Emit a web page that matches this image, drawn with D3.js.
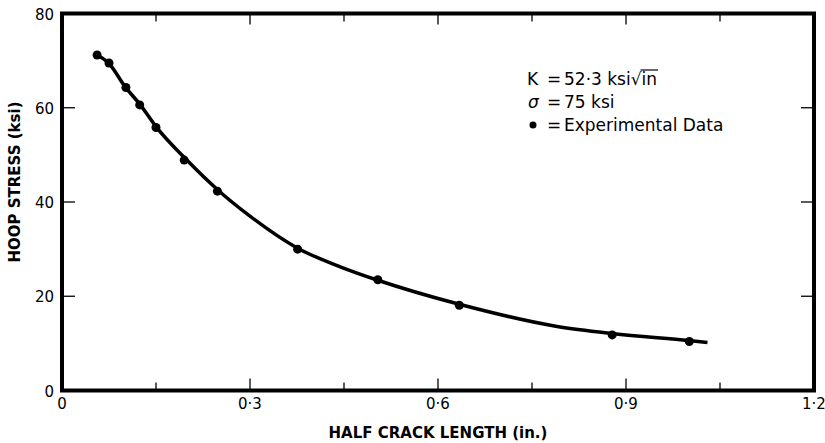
<!DOCTYPE html>
<html>
<head>
<meta charset="utf-8">
<script src="https://cdn.jsdelivr.net/npm/d3@7"></script>
<style>
  body { margin: 0; background: #fff; }
  text { font-family: "DejaVu Sans", "Liberation Sans", sans-serif; fill: #000; }
</style>
</head>
<body>
<svg id="chart" width="825" height="443"></svg>
<script>
// experimental points (half crack length in., hoop stress ksi)
const expX = [0.056, 0.075, 0.102, 0.124, 0.150, 0.195, 0.248, 0.376, 0.504, 0.634, 0.878, 1.001]
const expY = [71.2, 69.5, 64.3, 60.6, 55.8, 48.9, 42.3, 30.0, 23.5, 18.1, 11.8, 10.4]

// fitted curve
const curveX = [0.056, 0.075, 0.100, 0.125, 0.150, 0.200, 0.250, 0.300, 0.376, 0.445, 0.504, 0.634, 0.790, 0.878, 1.000, 1.030]
const curveY = [71.2, 69.4, 64.6, 60.6, 56.0, 48.8, 42.4, 37.0, 30.2, 26.2, 23.4, 18.3, 13.6, 12.1, 10.6, 10.2]

const xMajor = [0, 0.3, 0.6, 0.9, 1.2]
const xMajorLabels = ["0", "0·3", "0·6", "0·9", "1·2"]
const xMinor = [0.15, 0.45, 0.75, 1.05]
const yMajor = [0, 20, 40, 60, 80]

const svg = d3.select("#chart")
const mLeft = 62, mRight = 814, mTop = 13.5, mBottom = 390.5

const x = d3.scaleLinear().domain([0, 1.2]).range([mLeft, mRight])
const y = d3.scaleLinear().domain([0, 80]).range([mBottom, mTop])

// frame
svg.append("rect")
    .attr("x", mLeft).attr("y", mTop)
    .attr("width", mRight - mLeft).attr("height", mBottom - mTop)
    .attr("fill", "none").attr("stroke", "#000").attr("stroke-width", 4)

// inward ticks on every side
const tickG = svg.append("g").attr("stroke", "#000").attr("stroke-width", 1.3)
xMajor.slice(1, -1).forEach(v => {
    tickG.append("line").attr("x1", x(v)).attr("x2", x(v)).attr("y1", mBottom).attr("y2", mBottom - 12)
    tickG.append("line").attr("x1", x(v)).attr("x2", x(v)).attr("y1", mTop).attr("y2", mTop + 11)
})
xMinor.forEach(v => {
    tickG.append("line").attr("x1", x(v)).attr("x2", x(v)).attr("y1", mBottom).attr("y2", mBottom - 8)
    tickG.append("line").attr("x1", x(v)).attr("x2", x(v)).attr("y1", mTop).attr("y2", mTop + 8)
})
yMajor.slice(1, -1).forEach(v => {
    tickG.append("line").attr("x1", mLeft).attr("x2", mLeft + 13).attr("y1", y(v)).attr("y2", y(v))
    tickG.append("line").attr("x1", mRight).attr("x2", mRight - 13).attr("y1", y(v)).attr("y2", y(v))
})

// tick labels
svg.selectAll("text.xl").data(xMajor).join("text")
    .attr("class", "xl")
    .attr("x", d => x(d)).attr("y", 409)
    .attr("text-anchor", "middle")
    .attr("font-size", 15)
    .text((d, i) => xMajorLabels[i])

svg.selectAll("text.yl").data(yMajor).join("text")
    .attr("class", "yl")
    .attr("x", mLeft - 8).attr("y", d => y(d) + 6)
    .attr("text-anchor", "end")
    .attr("font-size", 15)
    .text(d => d)

// axis titles
svg.append("text")
    .attr("x", x(0.6)).attr("y", 438)
    .attr("text-anchor", "middle")
    .attr("font-size", 15).attr("font-weight", "bold")
    .text("HALF CRACK LENGTH (in.)")

svg.append("text")
    .attr("transform", `translate(20,182) rotate(-90)`)
    .attr("text-anchor", "middle")
    .attr("font-size", 15).attr("font-weight", "bold")
    .text("HOOP STRESS (ksi)")

// curve
const line = d3.line()
    .x(d => x(d[0])).y(d => y(d[1]))
    .curve(d3.curveMonotoneX)

svg.append("path")
    .datum(curveX.map((v, i) => [v, curveY[i]]))
    .attr("d", line)
    .attr("fill", "none").attr("stroke", "#000").attr("stroke-width", 3.5)

// points
svg.selectAll("circle.pt").data(expX).join("circle")
    .attr("class", "pt")
    .attr("cx", d => x(d)).attr("cy", (d, i) => y(expY[i]))
    .attr("r", 4.5)
    .attr("fill", "#000")

// legend
const tx = 564
const lg = svg.append("g").attr("font-size", 17)
lg.append("text").attr("x", 527).attr("y", 85).text("K")
lg.append("text").attr("x", 547).attr("y", 85).text("=")
const kt = lg.append("text").attr("x", tx).attr("y", 85).text("52·3 ksi")
const kw = kt.node().getComputedTextLength()
const rt = lg.append("text").attr("x", tx + kw).attr("y", 85).text("√in")
const rootW = lg.append("text").attr("x", -100).attr("y", -100).text("√")
const rw = rootW.node().getComputedTextLength()
rootW.remove()
const fullW = rt.node().getComputedTextLength()
lg.append("line")
    .attr("x1", tx + kw + rw - 1).attr("x2", tx + kw + fullW + 1)
    .attr("y1", 70).attr("y2", 70)
    .attr("stroke", "#000").attr("stroke-width", 1.2)

lg.append("text").attr("x", 528).attr("y", 108).attr("font-style", "italic").text("σ")
lg.append("text").attr("x", 547).attr("y", 108).text("=")
lg.append("text").attr("x", tx).attr("y", 108).text("75 ksi")

lg.append("circle").attr("cx", 533).attr("cy", 125).attr("r", 3.5).attr("fill", "#000")
lg.append("text").attr("x", 547).attr("y", 131).text("=")
lg.append("text").attr("x", tx).attr("y", 131).text("Experimental Data")
</script>
</body>
</html>
